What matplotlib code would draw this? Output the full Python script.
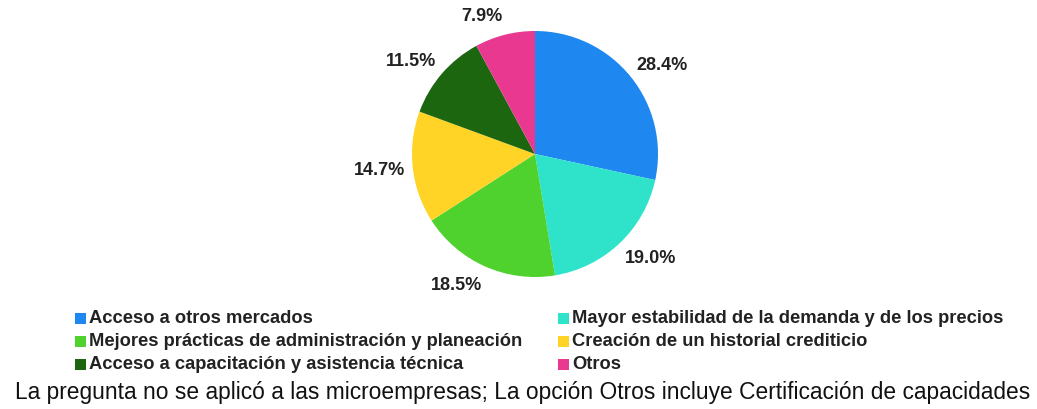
import matplotlib
matplotlib.use("Agg")
import matplotlib.pyplot as plt
import numpy as np
from matplotlib.patches import Rectangle

categories = [
    "Acceso a otros mercados",
    "Mayor estabilidad de la demanda y de los precios",
    "Mejores prácticas de administración y planeación",
    "Creación de un historial crediticio",
    "Acceso a capacitación y asistencia técnica",
    "Otros",
]
values = [28.4, 19.0, 18.5, 14.7, 11.5, 7.9]
colors = ["#1E88F0", "#2FE3CB", "#4FD12E", "#FFD426", "#1C6610", "#E8388F"]
footer = "La pregunta no se aplicó a las microempresas; La opción Otros incluye Certificación de capacidades"

W, H = 1037, 410
fig = plt.figure(figsize=(W / 100, H / 100), dpi=100)
plt.rcParams['font.family'] = ['Liberation Sans', 'DejaVu Sans']

cx, cy, R = 535, 155, 123
ax = fig.add_axes([(cx - R) / W, (H - cy - R) / H, 2 * R / W, 2 * R / H])
wedges, texts = ax.pie(values, colors=colors, startangle=90, counterclock=False,
                       labels=[f"{v:.1f}%" for v in values], labeldistance=1.1,
                       wedgeprops=dict(linewidth=0),
                       textprops=dict(fontsize=13, fontweight='bold', color='#222222'))
# place labels just outside the rim (slightly more radial room vertically)
for w, t in zip(wedges, texts):
    ang = np.deg2rad((w.theta1 + w.theta2) / 2)
    t.set_position((1.06 * np.cos(ang), 1.16 * np.sin(ang)))
ax.set_xlim(-1, 1)
ax.set_ylim(-1, 1)
ax.set_aspect('equal')

# legend in two columns
col_x = [75, 558]
row_y = [319, 342, 365]
sq = 11
for i, (lab, col) in enumerate(zip(categories, colors)):
    c = i % 2
    r = i // 2
    x = col_x[c]
    y = row_y[r]
    fig.patches.append(Rectangle((x / W, (H - y - sq / 2) / H), sq / W, sq / H,
                                 transform=fig.transFigure, facecolor=col, edgecolor='none'))
    fig.text((x + 14) / W, (H - y) / H, lab, fontsize=13.2, fontweight='bold',
             color='#222222', ha='left', va='center')

fig.text(523 / W, (H - 399) / H, footer, fontsize=16.4, color='#111111',
         ha='center', va='baseline')

fig.savefig("out.png", dpi=100, facecolor='white')
